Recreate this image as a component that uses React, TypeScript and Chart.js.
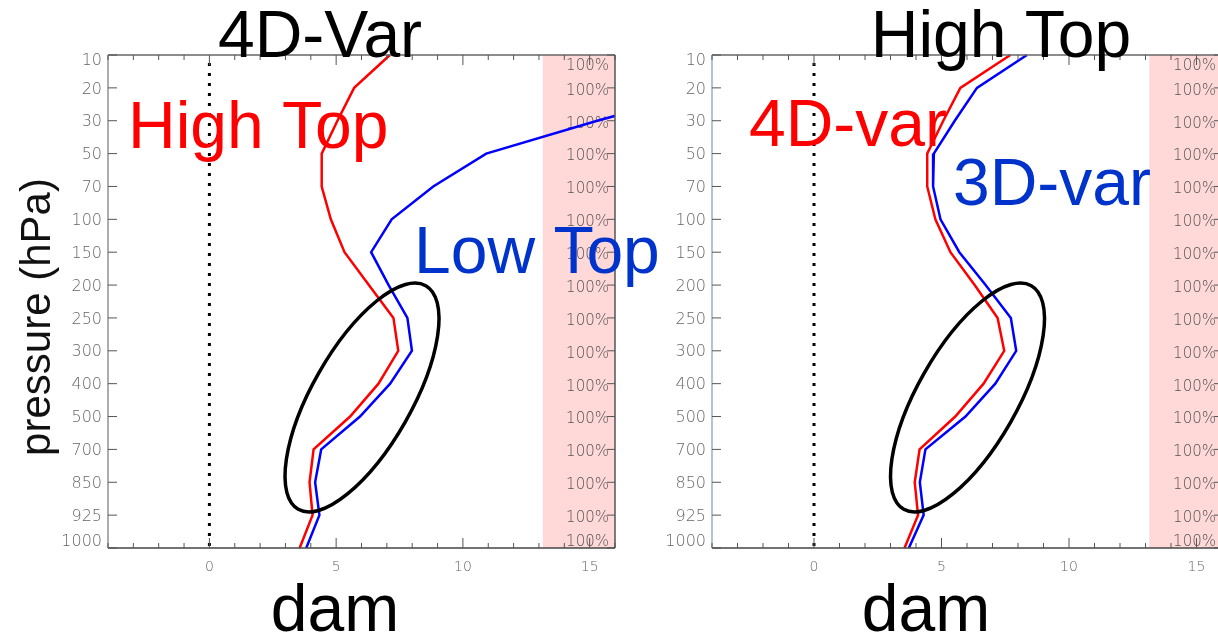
import React, { useEffect, useRef } from 'react';
import { Chart, registerables } from 'chart.js';

Chart.register(...registerables);

// Pressure levels (hPa), top of the profile first
const PRESSURE_LEVELS = ['10', '20', '30', '50', '70', '100', '150', '200', '250', '300', '400', '500', '700', '850', '925', '1000'];
// Right-hand axis annotation per level
const COVERAGE_LABELS = ['100%', '100%', '100%', '100%', '100%', '100%', '100%', '100%', '100%', '100%', '100%', '100%', '100%', '100%', '100%', '100%'];
// Labelled values on the dam axis
const X_TICK_LABELS = [0, 5, 10, 15];
const X_MIN = -4;
const X_MAX = 16;
// Shaded column on the right side of each panel (dam)
const SHADE_FROM = 13.15;

// Panel "4D-Var": High Top vs Low Top (dam)
const VAR4D_HIGH_TOP = [7.12, 5.71, 5.05, 4.43, 4.43, 4.79, 5.33, 6.29, 7.26, 7.45, 6.67, 5.55, 4.11, 3.95, 4.07, 3.56];
const VAR4D_LOW_TOP = [24.5, 20.0, 15.3, 10.92, 8.83, 7.19, 6.38, 7.07, 7.81, 7.99, 7.13, 5.94, 4.41, 4.17, 4.34, 3.82];

// Panel "High Top": 4D-var vs 3D-var (dam)
const HIGH_TOP_4DVAR = [7.7, 5.74, 5.07, 4.44, 4.44, 4.76, 5.35, 6.3, 7.2, 7.46, 6.65, 5.54, 4.14, 3.95, 4.08, 3.55];
const HIGH_TOP_3DVAR = [8.35, 6.39, 5.52, 4.7, 4.67, 4.96, 5.7, 6.73, 7.72, 7.93, 7.11, 5.94, 4.37, 4.15, 4.3, 3.72];

// Highlighted layer: centre in data units (dam, level index), radii in px
const FOCUS_X = 6.02;
const FOCUS_LEVEL = 10.42;
const FOCUS_RX = 128.7;
const FOCUS_RY = 49.7;
const FOCUS_ANGLE = -60.3;

const RED = '#ff0000';
const BLUE = '#0000ff';
const NOTE_BLUE = '#0033cc';
const SHADE = 'rgb(255, 216, 216)';
const BIG_FONT = '"Liberation Sans", Arial, sans-serif';
const TICK_FONT = '"DejaVu Sans", sans-serif';
const TICK_COLOR = '#666';

type Note = { text: string; color: string; x: number; y: number };
type PanelSpec = {
  left: number;
  width: number;
  padding: { left: number; top: number; right: number; bottom: number };
  title: string;
  titleX: number;
  damX: number;
  showPressure: boolean;
  leftAxisColor: string;
  notes: Note[];
  series: { values: number[]; color: string }[];
};

const PANELS: PanelSpec[] = [
  {
    left: 0,
    width: 700,
    padding: { left: 108, top: 55, right: 85, bottom: 90 },
    title: '4D-Var',
    titleX: 320,
    damX: 335,
    showPressure: true,
    leftAxisColor: '#9a8e8e',
    notes: [
      { text: 'High Top', color: RED, x: 128, y: 148 },
      { text: 'Low Top', color: NOTE_BLUE, x: 414, y: 273 },
    ],
    series: [
      { values: VAR4D_HIGH_TOP, color: RED },
      { values: VAR4D_LOW_TOP, color: BLUE },
    ],
  },
  {
    left: 600,
    width: 640,
    padding: { left: 112, top: 55, right: 18, bottom: 90 },
    title: 'High Top',
    titleX: 401,
    damX: 326,
    showPressure: false,
    leftAxisColor: '#93b3bd',
    notes: [
      { text: '4D-var', color: RED, x: 749, y: 146 },
      { text: '3D-var', color: NOTE_BLUE, x: 953, y: 205 },
    ],
    series: [
      { values: HIGH_TOP_4DVAR, color: RED },
      { values: HIGH_TOP_3DVAR, color: BLUE },
    ],
  },
];

function line(ctx: CanvasRenderingContext2D, x1: number, y1: number, x2: number, y2: number) {
  ctx.beginPath();
  ctx.moveTo(x1, y1);
  ctx.lineTo(x2, y2);
  ctx.stroke();
}

function panelPlugin(spec: PanelSpec) {
  return {
    id: 'profilePanel',
    beforeDraw(chart: any) {
      const { ctx, chartArea: a, scales } = chart;
      const sx = scales.x.getPixelForValue(SHADE_FROM);
      ctx.save();
      ctx.fillStyle = SHADE;
      ctx.fillRect(sx, a.top, a.right - sx, a.bottom - a.top);
      ctx.restore();
    },
    beforeDatasetsDraw(chart: any) {
      const { ctx, chartArea: a, scales } = chart;
      const ys = scales.y;
      ctx.save();
      ctx.font = `200 15px ${TICK_FONT}`;
      ctx.fillStyle = '#555';
      ctx.textAlign = 'right';
      ctx.textBaseline = 'middle';
      COVERAGE_LABELS.forEach((lab, i) => {
        const py = Math.min(Math.max(ys.getPixelForValue(i) + 3, a.top + 11), a.bottom - 6);
        ctx.fillText(lab, a.right - 6, py);
      });
      ctx.restore();
    },
    afterDatasetsDraw(chart: any) {
      const { ctx, chartArea: a, scales } = chart;
      const xs = scales.x;
      const ys = scales.y;
      ctx.save();

      // zero reference line
      const zx = xs.getPixelForValue(0);
      ctx.strokeStyle = '#000';
      ctx.lineWidth = 3;
      ctx.setLineDash([3, 7]);
      line(ctx, zx, a.top + 8, zx, a.bottom);
      ctx.setLineDash([]);

      // highlighted layer
      ctx.beginPath();
      ctx.ellipse(
        xs.getPixelForValue(FOCUS_X),
        ys.getPixelForValue(FOCUS_LEVEL),
        FOCUS_RX,
        FOCUS_RY,
        (FOCUS_ANGLE * Math.PI) / 180,
        0,
        Math.PI * 2
      );
      ctx.lineWidth = 3.5;
      ctx.strokeStyle = '#000';
      ctx.stroke();

      // frame
      ctx.lineWidth = 1.5;
      ctx.strokeStyle = '#666';
      line(ctx, a.left, a.top, a.right, a.top);
      ctx.strokeStyle = '#444';
      line(ctx, a.left, a.bottom, a.right, a.bottom);
      ctx.strokeStyle = '#555';
      line(ctx, a.right, a.top, a.right, a.bottom);
      ctx.strokeStyle = spec.leftAxisColor;
      line(ctx, a.left, a.top, a.left, a.bottom);

      // x ticks, inward, on top and bottom
      ctx.lineWidth = 1;
      ctx.strokeStyle = '#555';
      for (let v = Math.ceil(xs.min); v <= xs.max; v++) {
        const px = xs.getPixelForValue(v);
        const len = v % 5 === 0 ? 10 : 5;
        line(ctx, px, a.bottom, px, a.bottom - len);
        line(ctx, px, a.top, px, a.top + len);
      }
      // level ticks, inward, on both sides
      PRESSURE_LEVELS.forEach((_, i) => {
        const py = ys.getPixelForValue(i);
        line(ctx, a.left, py, a.left + 9, py);
        line(ctx, a.right - 8, py, a.right, py);
      });

      // tick labels
      ctx.fillStyle = TICK_COLOR;
      ctx.font = `200 16px ${TICK_FONT}`;
      ctx.textAlign = 'right';
      ctx.textBaseline = 'middle';
      PRESSURE_LEVELS.forEach((lab, i) => {
        const py = Math.min(Math.max(ys.getPixelForValue(i) + 1.5, a.top + 6), a.bottom - 6);
        ctx.fillText(lab, a.left - 6, py);
      });
      ctx.font = `200 14px ${TICK_FONT}`;
      ctx.textAlign = 'center';
      X_TICK_LABELS.forEach((v) => {
        ctx.fillText(String(v), xs.getPixelForValue(v), a.bottom + 19);
      });

      // in-plot notes
      ctx.textBaseline = 'alphabetic';
      ctx.textAlign = 'left';
      ctx.font = `66px ${BIG_FONT}`;
      spec.notes.forEach((n) => {
        ctx.fillStyle = n.color;
        ctx.fillText(n.text, n.x - spec.left, n.y);
      });

      // title and axis titles
      ctx.fillStyle = '#000';
      ctx.textAlign = 'center';
      ctx.fillText(spec.title, spec.titleX, 57);
      ctx.fillText('dam', spec.damX, 631);
      if (spec.showPressure) {
        ctx.save();
        ctx.translate(50, 317);
        ctx.rotate(-Math.PI / 2);
        ctx.font = `42px ${BIG_FONT}`;
        ctx.fillStyle = '#111';
        ctx.fillText('pressure (hPa)', 0, 0);
        ctx.restore();
      }
      ctx.restore();
    },
  };
}

function Panel({ spec }: { spec: PanelSpec }) {
  const ref = useRef<HTMLCanvasElement | null>(null);
  useEffect(() => {
    if (!ref.current) return;
    const chart = new Chart(ref.current, {
      type: 'line',
      data: {
        labels: PRESSURE_LEVELS,
        datasets: spec.series.map((s) => ({
          data: s.values,
          borderColor: s.color,
          borderWidth: 2.5,
          pointRadius: 0,
          tension: 0,
          fill: false,
        })),
      },
      options: {
        indexAxis: 'y',
        animation: false,
        responsive: false,
        maintainAspectRatio: false,
        layout: { padding: spec.padding },
        scales: {
          x: { type: 'linear', min: X_MIN, max: X_MAX, display: false },
          y: { type: 'category', display: false, offset: false },
        },
        plugins: {
          legend: { display: false },
          tooltip: { enabled: false },
        },
      },
      plugins: [panelPlugin(spec)],
    } as any);
    return () => chart.destroy();
  }, [spec]);
  return (
    <canvas
      ref={ref}
      width={spec.width}
      height={638}
      style={{ position: 'absolute', left: spec.left, top: 0, width: spec.width, height: 638 }}
    />
  );
}

export default function App() {
  return (
    <div
      style={{
        position: 'absolute',
        left: 0,
        top: 0,
        width: 1218,
        height: 638,
        overflow: 'hidden',
        background: '#fff',
      }}
    >
      {PANELS.map((p) => (
        <Panel key={p.title} spec={p} />
      ))}
    </div>
  );
}
